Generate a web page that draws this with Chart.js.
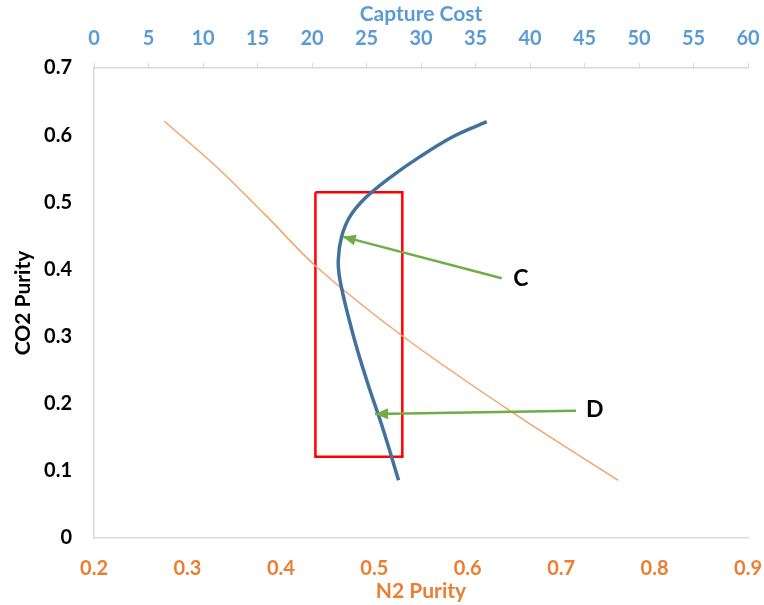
<!doctype html>
<html lang="en">
<head>
  <meta charset="utf-8">
  <title>CO2 / N2 Purity vs Capture Cost</title>
  <script src="https://cdn.jsdelivr.net/npm/chart.js@4.4.1/dist/chart.umd.min.js"></script>
  <style>
    html, body { margin: 0; padding: 0; background: #fff; }
    #wrap { width: 764px; height: 605px; }
  </style>
</head>
<body>
  <div id="wrap"><canvas id="myChart" width="764" height="605"></canvas></div>
  <script>
// tick labels
var n2Ticks = [0.2, 0.3, 0.4, 0.5, 0.6, 0.7, 0.8, 0.9];
var costTicks = [0, 5, 10, 15, 20, 25, 30, 35, 40, 45, 50, 55, 60];
var co2Ticks = [0, 0.1, 0.2, 0.3, 0.4, 0.5, 0.6, 0.7];

// orange series: CO2 purity against N2 purity
var n2Purity = [0.275, 0.331, 0.385, 0.438, 0.529, 0.649, 0.761];
var co2ByN2 = [0.621, 0.553, 0.479, 0.404, 0.302, 0.186, 0.086];

// blue series: CO2 purity against capture cost
var captureCost = [36.03, 32.96, 29.91, 27.0, 24.86, 23.49, 22.72, 22.41, 22.57, 23.33, 24.25, 25.32, 26.24, 27.11, 27.94];
var co2ByCost = [0.620, 0.598, 0.568, 0.535, 0.506, 0.479, 0.449, 0.414, 0.384, 0.330, 0.275, 0.220, 0.176, 0.131, 0.086];

// red box (in N2 purity / CO2 purity units)
var boxX = [0.437, 0.530, 0.530, 0.437, 0.437];
var boxY = [0.515, 0.515, 0.121, 0.121, 0.515];

// arrows: [head, tail]
var arrowCX = [0.4662, 0.6364];
var arrowCY = [0.4488, 0.3868];
var arrowDX = [0.5008, 0.7159];
var arrowDY = [0.1847, 0.1896];

var labelNames = ["C", "D"];
var labelX = [0.657, 0.736];
var labelY = [0.387, 0.191];

function pts(xs, ys) {
  return xs.map(function (v, i) { return { x: v, y: ys[i] }; });
}

var GREEN = "#70AD47";
var FONT = "Lato";

var annotPlugin = {
  id: "annot",
  afterDatasetsDraw: function (chart) {
    var ctx = chart.ctx;
    var xs = chart.scales.x, ys = chart.scales.y;
    ctx.save();
    [[arrowCX, arrowCY], [arrowDX, arrowDY]].forEach(function (a) {
      var hx = xs.getPixelForValue(a[0][0]), hy = ys.getPixelForValue(a[1][0]);
      var tx = xs.getPixelForValue(a[0][1]), ty = ys.getPixelForValue(a[1][1]);
      var ang = Math.atan2(hy - ty, hx - tx);
      var len = 13, w = 5.5;
      ctx.fillStyle = GREEN;
      ctx.beginPath();
      ctx.moveTo(hx, hy);
      ctx.lineTo(hx - len * Math.cos(ang) + w * Math.sin(ang), hy - len * Math.sin(ang) - w * Math.cos(ang));
      ctx.lineTo(hx - len * Math.cos(ang) - w * Math.sin(ang), hy - len * Math.sin(ang) + w * Math.cos(ang));
      ctx.closePath();
      ctx.fill();
    });
    ctx.fillStyle = "#000";
    ctx.font = "bold 23px " + FONT;
    ctx.textAlign = "center";
    ctx.textBaseline = "middle";
    labelNames.forEach(function (t, i) {
      ctx.fillText(t, xs.getPixelForValue(labelX[i]), ys.getPixelForValue(labelY[i]));
    });
    ctx.restore();
  }
};

function fixHeight(h) {
  return function (s) { s.height = h; s.paddingLeft = 0; s.paddingRight = 0; };
}

var tickFont = { family: FONT, size: 20, weight: "bold" };
var titleFont = { family: FONT, size: 21, weight: "bold" };

var ctx = document.getElementById("myChart").getContext("2d");
var chart = new Chart(ctx, {
  type: "scatter",
  data: {
    datasets: [
      { data: pts(arrowCX, arrowCY), showLine: true, borderColor: GREEN, borderWidth: 2.5, pointRadius: 0, order: 0 },
      { data: pts(arrowDX, arrowDY), showLine: true, borderColor: GREEN, borderWidth: 2.5, pointRadius: 0, order: 0 },
      { data: pts(captureCost, co2ByCost), xAxisID: "x2", showLine: true, borderColor: "#41719C",
        borderWidth: 3.5, pointRadius: 0, tension: 0.35, order: 1 },
      { data: pts(n2Purity, co2ByN2), showLine: true, borderColor: "#F4A46C",
        borderWidth: 1.5, pointRadius: 0, tension: 0.3, order: 2 },
      { data: pts(boxX, boxY), showLine: true, borderColor: "#FF0000", borderWidth: 2.5,
        pointRadius: 0, tension: 0, order: 3 }
    ]
  },
  options: {
    responsive: false,
    animation: false,
    layout: { padding: { left: 0, right: 16, top: 0, bottom: 0 } },
    plugins: { legend: { display: false }, tooltip: { enabled: false } },
    scales: {
      x: {
        type: "linear", position: "bottom", min: 0.2, max: 0.9,
        afterBuildTicks: function (s) { s.ticks = n2Ticks.map(function (v) { return { value: v }; }); },
        afterFit: fixHeight(67),
        grid: { display: false, drawTicks: false },
        border: { color: "#D9D9D9", width: 1.5 },
        ticks: { color: "#ED7D31", padding: 19, font: tickFont,
          callback: function (v) { return v.toFixed(1); } },
        title: { display: true, text: "N2 Purity", color: "#ED7D31", padding: 1, font: titleFont }
      },
      x2: {
        type: "linear", position: "top", min: 0, max: 60,
        afterBuildTicks: function (s) { s.ticks = costTicks.map(function (v) { return { value: v }; }); },
        afterFit: fixHeight(68),
        grid: { drawOnChartArea: false, drawTicks: true, tickLength: 5, color: "#D9D9D9", lineWidth: 1 },
        border: { color: "#D9D9D9", width: 1.5 },
        ticks: { color: "#5B9BD5", padding: 12, font: tickFont },
        title: { display: true, text: "Capture Cost", color: "#5B9BD5", padding: 2, font: titleFont }
      },
      y: {
        type: "linear", min: 0, max: 0.7,
        afterBuildTicks: function (s) { s.ticks = co2Ticks.map(function (v) { return { value: v }; }); },
        afterFit: function (s) { s.width = 94; s.paddingTop = 0; s.paddingBottom = 0; },
        grid: { display: false, drawTicks: false },
        border: { color: "#D9D9D9", width: 1.5 },
        ticks: { color: "#000", padding: 22, font: tickFont,
          callback: function (v) { return v === 0 ? "0" : v.toFixed(1); } },
        title: { display: true, text: "CO2 Purity", color: "#000", padding: 11, font: titleFont }
      }
    }
  },
  plugins: [annotPlugin]
});
  </script>
</body>
</html>
